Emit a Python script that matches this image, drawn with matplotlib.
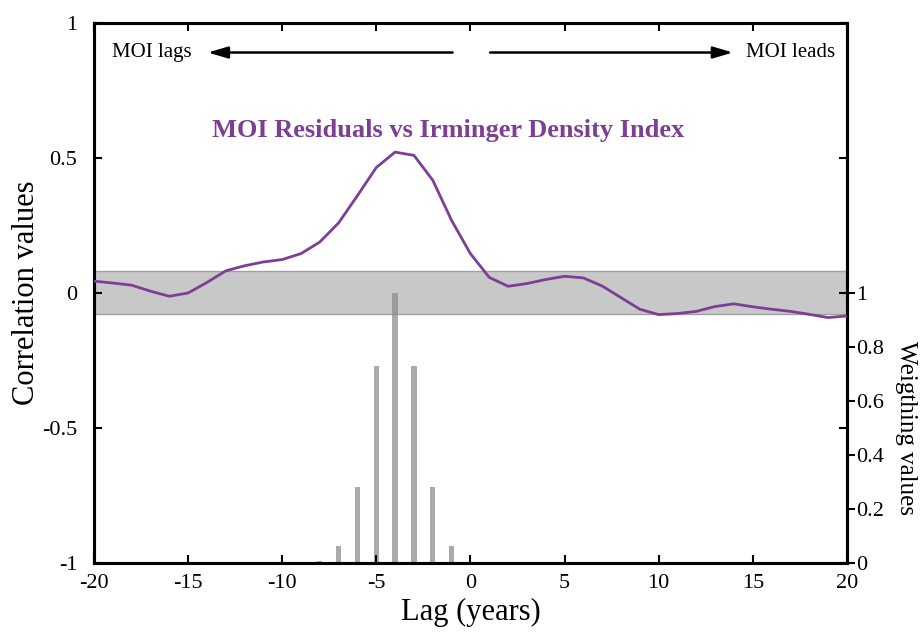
import matplotlib
matplotlib.use('Agg')
import matplotlib.pyplot as plt

plt.rcParams['font.family'] = ['Liberation Serif', 'DejaVu Serif']
plt.rcParams['axes.unicode_minus'] = False

# 数据
lags = list(range(-20, 21))
corr = [0.043, 0.036, 0.028, 0.006, -0.013, -0.001, 0.038, 0.081, 0.100, 0.114,
        0.123, 0.145, 0.188, 0.259, 0.360, 0.464, 0.521, 0.509, 0.417, 0.268,
        0.145, 0.057, 0.024, 0.034, 0.049, 0.061, 0.055, 0.025, -0.018, -0.061,
        -0.081, -0.077, -0.069, -0.051, -0.041, -0.052, -0.061, -0.069, -0.080,
        -0.092, -0.086]
weight_lags = [-8, -7, -6, -5, -4, -3, -2, -1]
weights = [0.007, 0.06, 0.28, 0.73, 1.0, 0.73, 0.28, 0.06]
band = 0.08
title = 'MOI Residuals vs Irminger Density Index'
purple = '#7d3f95'

fig = plt.figure(figsize=(9.21, 6.34), dpi=100)
ax = fig.add_axes([0.102, 0.1125, 0.8175, 0.8515])
ax2 = ax.twinx()

# 右轴与左轴同比例，右轴 1 对应左轴 0
ax2.set_ylim(0, 2)
# 置信带（画在右轴下层，柱子叠在上面）
ax2.axhspan(1 - band, 1 + band, facecolor='#c8c8c8', edgecolor='#a0a0a0', linewidth=1, zorder=1)
ax2.bar(weight_lags, weights, width=0.28, color='#888888', alpha=0.7, zorder=2)
ax2.set_yticks([0, 0.2, 0.4, 0.6, 0.8, 1])
ax2.set_yticklabels(['0', '0.2', '0.4', '0.6', '0.8', '1'])
ax2.tick_params(axis='y', direction='out', length=6, width=1.5, labelsize=16, pad=1)
ax2.set_ylabel('Weigthing values', fontsize=18, rotation=-90, va='center', ha='center')
ax2.yaxis.set_label_coords(1.078, 0.25)

# 相关曲线
ax.set_zorder(ax2.get_zorder() + 1)
ax.patch.set_visible(False)
ax.plot(lags, corr, color=purple, linewidth=2, zorder=3)

ax.set_xlim(-20, 20)
ax.set_ylim(-1, 1)
ax.set_xticks(range(-20, 21, 5))
ax.set_yticks([-1, -0.5, 0, 0.5, 1])
ax.set_yticklabels(['-1', '-0.5', '0', '0.5', '1'])
ax.tick_params(direction='in', length=6, width=1.5, labelsize=16, top=True, right=True)
ax.tick_params(axis='y', pad=12)
ax.tick_params(axis='x', pad=8)
ax.set_xlabel('Lag (years)', fontsize=22)
ax.xaxis.set_label_coords(0.5, -0.066)
ax.set_ylabel('Correlation values', fontsize=22, va='center')
ax.yaxis.set_label_coords(-0.089, 0.5)
for a in (ax, ax2):
    for s in a.spines.values():
        s.set_linewidth(2.2)

ax.text(-1.2, 0.6, title, color=purple, fontsize=19, fontweight='bold', ha='center', va='center')

# 方向箭头
arrow = dict(arrowstyle='-|>,head_length=1.2,head_width=0.35', color='black', lw=1.8)
ax.annotate('', xy=(-14.1, 0.89), xytext=(-0.8, 0.89), arrowprops=arrow)
ax.annotate('', xy=(14.1, 0.89), xytext=(0.9, 0.89), arrowprops=arrow)
ax.text(-16.9, 0.89, 'MOI lags', fontsize=15, ha='center', va='center')
ax.text(17.0, 0.89, 'MOI leads', fontsize=15, ha='center', va='center')

plt.savefig('out.png', dpi=100)
